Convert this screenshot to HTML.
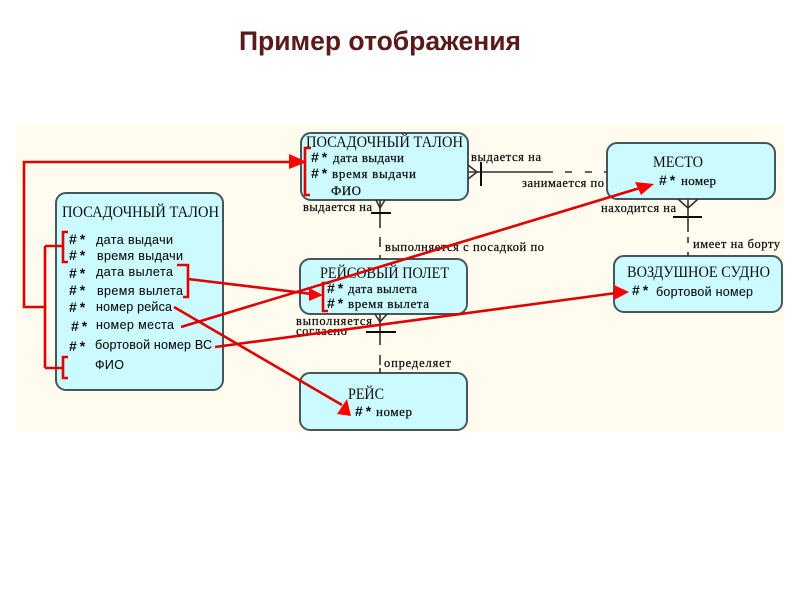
<!DOCTYPE html>
<html><head><meta charset="utf-8"><style>
html,body{margin:0;padding:0;background:#fff}
svg{display:block;position:absolute;left:0;top:0}
text{white-space:pre}
.s{font-family:"Liberation Serif",serif;font-size:13px;fill:#111;stroke:#111;stroke-width:.25}
.l{font-family:"Liberation Serif",serif;font-size:12.5px;fill:#111;stroke:#111;stroke-width:.25}
.h{font-family:"Liberation Serif",serif;font-size:16px;fill:#111}
.a{font-family:"Liberation Sans",sans-serif;font-size:12.5px;fill:#111;stroke:#111;stroke-width:.1}
.n{font-family:"Liberation Sans",sans-serif;font-size:14px;font-weight:bold;fill:#111;letter-spacing:3px}
.b{fill:#ccfbff;stroke:#46565a;stroke-width:2}
.r{stroke:#e00000;stroke-width:2.6;fill:none}
.k{stroke:#333;stroke-width:1.6;fill:none}
.t{stroke:#111;stroke-width:2;fill:none}
</style></head><body>
<svg width="800" height="600" viewBox="0 0 800 600" xmlns="http://www.w3.org/2000/svg">
<defs><filter id="bl" x="0" y="0" width="100%" height="100%"><feGaussianBlur stdDeviation="0.3"/></filter></defs>
<rect width="800" height="600" fill="#fff"/>
<text x="239" y="50" font-family="Liberation Sans,sans-serif" font-size="26.5" font-weight="bold" fill="#5a1a1a">Пример отображения</text>
<g filter="url(#bl)">
<rect x="16" y="124" width="768" height="308" fill="#fffbee"/>

<rect class="b" x="56" y="193" width="167" height="197" rx="10"/>
<rect class="b" x="301" y="133" width="167" height="67" rx="10"/>
<rect class="b" x="300" y="259" width="167" height="55" rx="10"/>
<rect class="b" x="300" y="373" width="167" height="57" rx="10"/>
<rect class="b" x="607" y="143" width="168" height="56" rx="10"/>
<rect class="b" x="614" y="256" width="168" height="56" rx="10"/>

<path class="k" d="M468 172H553M565 172H572M585 172H592M604 172H607"/>
<path class="k" d="M468 165L477 172L468 179"/>
<path class="t" d="M481 162V186"/>
<path class="k" d="M380 200V228M380 237V247M380 255V259"/>
<path class="k" d="M376 200L380 208L385 200"/>
<path class="t" d="M371 213H391"/>
<path class="k" d="M380 314V345M380 355V365M380 368V373"/>
<path class="k" d="M375 314L380 322L387 314"/>
<path class="t" d="M366 332H396"/>
<path class="k" d="M688 199V232M688 237V243M688 252V256"/>
<path class="k" d="M678 199L688 208L698 199"/>
<path class="t" d="M673 217H702"/>

<text class="h" x="62" y="217" textLength="157" lengthAdjust="spacingAndGlyphs">ПОСАДОЧНЫЙ ТАЛОН</text>
<text class="n" x="69" y="244">#*</text><text class="a" x="96" y="244" textLength="77">дата выдачи</text>
<text class="n" x="69" y="260">#*</text><text class="a" x="97" y="260" textLength="86">время выдачи</text>
<text class="n" x="69" y="278">#*</text><text class="a" x="96" y="276" textLength="77">дата вылета</text>
<text class="n" x="69" y="295">#*</text><text class="a" x="97" y="295" textLength="86">время вылета</text>
<text class="n" x="69" y="312">#*</text><text class="a" x="96" y="311" textLength="76">номер рейса</text>
<text class="n" x="71" y="331">#*</text><text class="a" x="96" y="329" textLength="78">номер места</text>
<text class="n" x="69" y="351">#*</text><text class="a" x="95" y="349" textLength="117">бортовой номер ВС</text>
<text class="a" x="95" y="369" textLength="29">ФИО</text>
<text class="n" x="632" y="295">#*</text><text class="a" x="656" y="296" textLength="97">бортовой номер</text>

<text class="h" x="306" y="147" textLength="157" lengthAdjust="spacingAndGlyphs">ПОСАДОЧНЫЙ ТАЛОН</text>
<text class="n" x="311" y="162">#*</text><text class="s" x="333" y="162" textLength="71">дата выдачи</text>
<text class="n" x="311" y="178">#*</text><text class="s" x="332" y="178" textLength="84">время выдачи</text>
<text class="s" x="331" y="195" textLength="30">ФИО</text>
<text class="h" x="320" y="278" textLength="129" lengthAdjust="spacingAndGlyphs">РЕЙСОВЫЙ ПОЛЕТ</text>
<text class="n" x="327" y="293">#*</text><text class="s" x="348" y="293" textLength="69">дата вылета</text>
<text class="n" x="327" y="308">#*</text><text class="s" x="348" y="308" textLength="81">время вылета</text>
<text class="h" x="348" y="399" textLength="36" lengthAdjust="spacingAndGlyphs">РЕЙС</text>
<text class="n" x="355" y="416">#*</text><text class="s" x="376" y="416" textLength="36">номер</text>
<text class="h" x="653" y="167" textLength="50" lengthAdjust="spacingAndGlyphs">МЕСТО</text>
<text class="n" x="659" y="185">#*</text><text class="s" x="681" y="185" textLength="35">номер</text>
<text class="h" x="627" y="277" textLength="143" lengthAdjust="spacingAndGlyphs">ВОЗДУШНОЕ СУДНО</text>

<text class="l" x="471" y="161" textLength="70">выдается на</text>
<text class="l" x="522" y="187" textLength="82">занимается по</text>
<text class="l" x="303" y="211" textLength="69">выдается на</text>
<text class="l" x="385" y="251" textLength="159">выполняется с посадкой по</text>
<text class="l" x="296" y="325" textLength="76">выполняется</text>
<text class="l" x="296" y="335" textLength="51">согласно</text>
<text class="l" x="384" y="367" textLength="67">определяет</text>
<text class="l" x="601" y="212" textLength="75">находится на</text>
<text class="l" x="693" y="248" textLength="87">имеет на борту</text>

<path class="r" d="M292 162H24V307H45"/>
<path class="r" d="M68 232H63V262H68M45 246H63M45 246V368M45 368H63M68 357H63V378H68"/>
<path class="r" d="M177 265H188V297H183M188 279L312 294"/>
<path class="r" d="M311 148H305V195H310"/>
<path class="r" d="M329 283H323V311H328"/>
<path class="r" d="M181 327L640 188"/>
<path class="r" d="M215 347L616 293"/>
<path class="r" d="M174 307L342 405"/>
<polygon fill="#f00" points="289,154 307,162 289,169"/>
<polygon fill="#f00" points="309,288 323,295 309,301"/>
<polygon fill="#f00" points="654,184 635,182 641,195"/>
<polygon fill="#f00" points="629,292 614,285 614,300"/>
<polygon fill="#f00" points="351,416 337,414 347,399"/>
</g>
</svg>
</body></html>
